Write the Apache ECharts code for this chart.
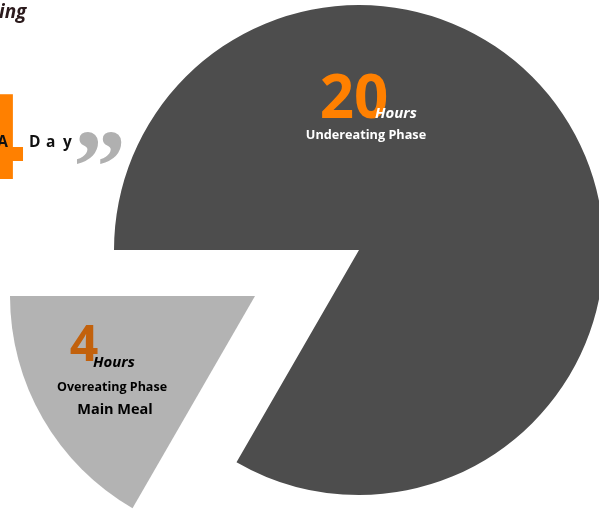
<!DOCTYPE html>
<html>
<head>
<meta charset="utf-8">
<script src="https://cdn.jsdelivr.net/npm/echarts@6/dist/echarts.min.js"></script>
<style>
html,body{margin:0;padding:0;background:#fff;}
#chart{width:599px;height:510px;}
</style>
</head>
<body>
<div id="chart"></div>
<script>
// ---- data ----
const categories = ['Undereating Phase', 'Overeating Phase'];
const hours = [20, 4];
const subLabels = ['', 'Main Meal'];
const unitLabel = 'Hours';
const titleFragment = 'ing';
const dayLetters = ['A', 'D', 'a', 'y'];
const bigNumber = '4';

const darkColor = '#4d4d4d';
const lightColor = '#b3b3b3';
const FONT = '"Open Sans", sans-serif';

const chart = echarts.init(document.getElementById('chart'), null, {renderer: 'canvas'});

function pieSeries(center, visibleIndex) {
  return {
    type: 'pie',
    center: center,
    radius: 245,
    startAngle: 180,
    clockwise: true,
    silent: true,
    animation: false,
    z: 1,
    label: {show: false},
    labelLine: {show: false},
    emphasis: {disabled: true},
    data: categories.map((c, i) => ({
      name: c,
      value: hours[i],
      itemStyle: {
        color: i === visibleIndex ? (i === 0 ? darkColor : lightColor) : 'rgba(0,0,0,0)',
        borderWidth: 0
      }
    }))
  };
}

function txt(text, x, y, size, color, opts) {
  opts = opts || {};
  return {
    type: 'text', z: opts.z || 100, silent: true,
    style: {
      text: text, x: x, y: y,
      fontSize: size,
      fontWeight: 'bold',
      fontStyle: opts.italic ? 'italic' : 'normal',
      fontFamily: opts.family || FONT,
      fill: color,
      textAlign: opts.align || 'left',
      textVerticalAlign: 'middle'
    }
  };
}

const dayX = [8, 29, 46, 63];
const dayEls = dayLetters.map((l, i) =>
  txt(l, dayX[i], 143, 15.5, '#111111', {align: i === 0 ? 'right' : 'left', z: 102}));

const option = {
  backgroundColor: '#ffffff',
  animation: false,
  series: [
    pieSeries([359, 250], 0),
    pieSeries([255, 296], 1)
  ],
  graphic: {
    elements: [
      txt(titleFragment, -1, 13, 19, '#2b1a1c', {italic: true}),
      txt(bigNumber, 25, 145, 118, '#ff8000', {align: 'right'}),
      txt('\u201D', 73, 176, 106, '#b0b0b0', {family: '"Liberation Serif", serif', z: 101})
    ].concat(dayEls).concat([
      txt(String(hours[0]), 354, 101, 60, '#ff8000', {align: 'center'}),
      txt(unitLabel, 375, 114, 15, '#ffffff', {italic: true}),
      txt(categories[0], 366, 135, 12.7, '#ffffff', {align: 'center'}),
      txt(String(hours[1]), 84, 347, 50, '#c2610c', {align: 'center'}),
      txt(unitLabel, 93, 363, 15, '#000000', {italic: true, z: 101}),
      txt(categories[1], 112, 387, 12.5, '#000000', {align: 'center'}),
      txt(subLabels[1], 115, 410, 14.5, '#000000', {align: 'center'})
    ])
  }
};
chart.setOption(option);
</script>
</body>
</html>
